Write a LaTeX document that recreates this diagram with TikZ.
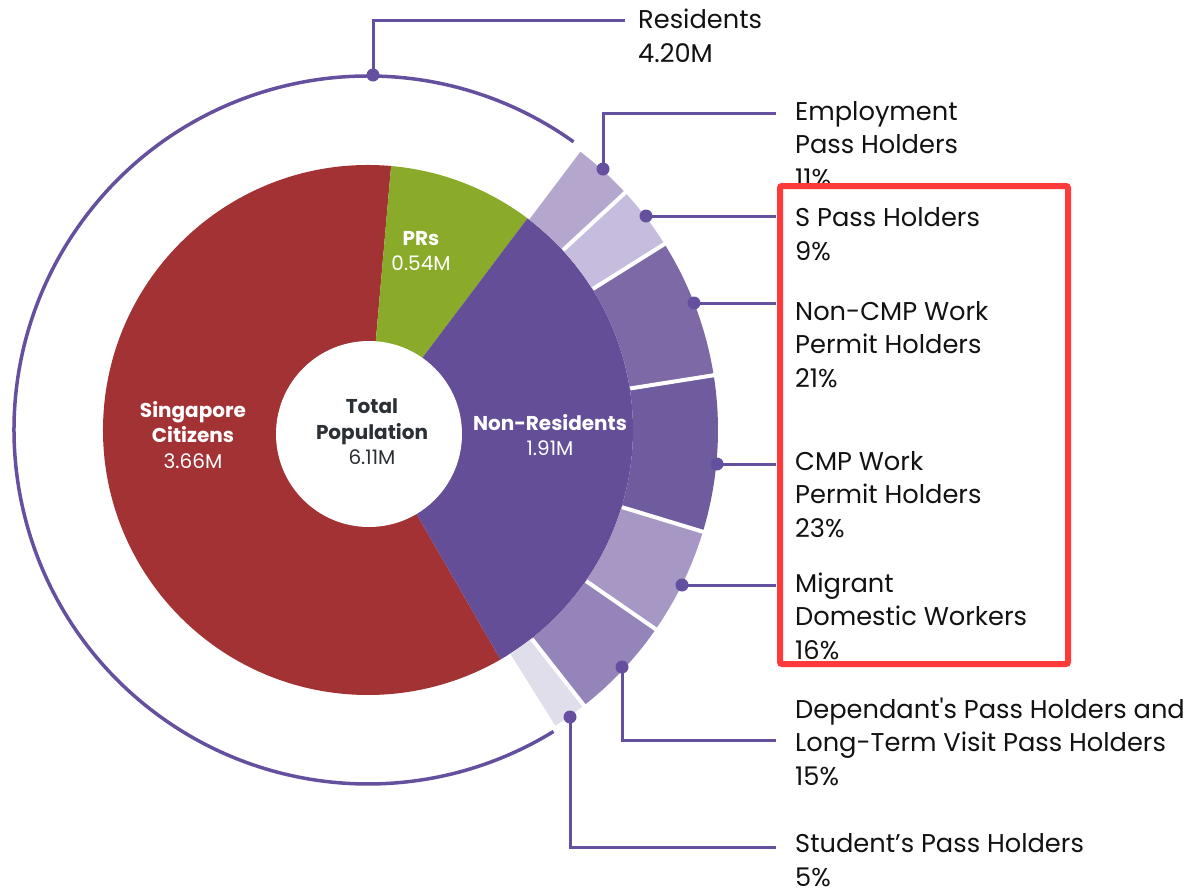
\documentclass[tikz,border=0pt]{standalone}
\usepackage{fontspec}
\setmainfont{Poppins}
\definecolor{citRed}{HTML}{A23233}
\definecolor{prGreen}{HTML}{8AAA29}
\definecolor{nrPurple}{HTML}{634E97}
\definecolor{empC}{HTML}{B4A6CD}
\definecolor{sC}{HTML}{C6BCDD}
\definecolor{ncmpC}{HTML}{7D69A5}
\definecolor{cmpC}{HTML}{6F5C9F}
\definecolor{mdwC}{HTML}{A697C5}
\definecolor{dpC}{HTML}{9584BA}
\definecolor{stuC}{HTML}{E0DEEB}
\definecolor{lineC}{HTML}{6550A0}
\definecolor{boxRed}{HTML}{FF3A3A}
\definecolor{labelC}{HTML}{121212}
\definecolor{totalC}{HTML}{2B3036}
\newcommand\ringseg[3]{\fill[#1] (#2:265) arc[start angle=#2,end angle=#3,radius=265] -- (#3:350) arc[start angle=#3,end angle=#2,radius=350] -- cycle;}
\newcommand\ringsep[1]{\draw[sepline] (#1:265.5) -- (#1:352);}
\newcommand\straightapos{{\addfontfeature{Ligatures=TeXOff}'}}
\begin{document}
\begin{tikzpicture}[x=1pt,y=1pt,
  lbl/.style={anchor=base west, align=left, font=\fontsize{25.7}{33.5}\selectfont, text=labelC, inner sep=0pt},
  pielbl/.style={align=center, font=\fontsize{20}{25.5}\selectfont, inner sep=0pt},
  lead/.style={draw=lineC, line width=3pt},
  dotmark/.style={circle, fill=lineC, inner sep=0pt, minimum size=13pt},
  sepline/.style={draw=white, line width=4pt}]
\useasboundingbox (0,0) rectangle (1187,-894);
\begin{scope}[shift={(368,-430)}]
  \fill[citRed] (0,0) -- (85:265) arc[start angle=85,end angle=300,radius=265] -- cycle;
  \fill[prGreen] (0,0) -- (53:265) arc[start angle=53,end angle=85,radius=265] -- cycle;
  \fill[nrPurple] (0,0) -- (-60:265) arc[start angle=-60,end angle=53,radius=265] -- cycle;
  \ringseg{empC}{42.7}{53}
  \ringseg{sC}{32.1}{42.7}
  \ringseg{ncmpC}{9}{32.1}
  \ringseg{cmpC}{-16.9}{9}
  \ringseg{mdwC}{-34.7}{-16.9}
  \ringseg{dpC}{-51.9}{-34.7}
  \ringseg{stuC}{-58}{-51.9}
  \ringsep{53}\ringsep{42.7}\ringsep{32.1}\ringsep{9}\ringsep{-16.9}\ringsep{-34.7}\ringsep{-51.9}\ringsep{-58}
  \draw[lineC, line width=3.5pt] (54.5:354) arc[start angle=54.5,end angle=301.6,radius=354];
  \fill[white] (1,-4) circle (93);
\end{scope}
% pie labels
\node[pielbl, text=white] (cit) at (193,-435) {\bfseries Singapore\\\bfseries Citizens\\3.66M};
\node[pielbl, text=white] (pr) at (421,-251) {\bfseries PRs\\0.54M};
\node[pielbl, text=totalC] (tot) at (372,-432) {\bfseries Total\\\bfseries Population\\6.11M};
\node[pielbl, text=white] (nr) at (550,-435) {\bfseries Non-Residents\\1.91M};
% leader ends
\coordinate (eRes) at (625,-20);
\coordinate (eEmp) at (776,-113);
\coordinate (eS) at (776,-216);
\coordinate (eNcmp) at (776,-303);
\coordinate (eCmp) at (776,-464);
\coordinate (eMdw) at (776,-585);
\coordinate (eDp) at (776,-740);
\coordinate (eStu) at (776,-847);
% dot positions
\coordinate (pRes) at (373,-75);
\coordinate (pEmp) at (603,-169);
\coordinate (pS) at (646,-216);
\coordinate (pNcmp) at (694,-303);
\coordinate (pCmp) at (717,-464);
\coordinate (pMdw) at (682,-585);
\coordinate (pDp) at (622,-667);
\coordinate (pStu) at (570,-717);
\draw[lead] (pRes) |- (eRes);
\draw[lead] (pEmp) |- (eEmp);
\draw[lead] (pS) -- (eS);
\draw[lead] (pNcmp) -- (eNcmp);
\draw[lead] (pCmp) -- (eCmp);
\draw[lead] (pMdw) -- (eMdw);
\draw[lead] (pDp) |- (eDp);
\draw[lead] (pStu) |- (eStu);
% dots
\node[dotmark] (dRes) at (pRes) {};
\node[dotmark] (dEmp) at (pEmp) {};
\node[dotmark] (dS) at (pS) {};
\node[dotmark] (dNcmp) at (pNcmp) {};
\node[dotmark] (dCmp) at (pCmp) {};
\node[dotmark] (dMdw) at (pMdw) {};
\node[dotmark] (dDp) at (pDp) {};
\node[dotmark] (dStu) at (pStu) {};
% labels (anchored at the baseline of the last line)
\node[lbl] (lRes) at (638,-62) {Residents\\4.20M};
\node[lbl] (lEmp) at (795,-187) {Employment\\Pass Holders\\11\%};
\node[lbl] (lS) at (795,-260) {S Pass Holders\\9\%};
\node[lbl] (lNcmp) at (795,-387) {Non-CMP Work\\Permit Holders\\21\%};
\node[lbl] (lCmp) at (795,-537) {CMP Work\\Permit Holders\\23\%};
\node[lbl] (lMdw) at (795,-659) {Migrant\\Domestic Workers\\16\%};
\node[lbl] (lDp) at (795,-785) {Dependant\straightapos s Pass Holders and\\Long-Term Visit Pass Holders\\15\%};
\node[lbl] (lStu) at (795,-886) {Student’s Pass Holders\\5\%};
% highlight box
\draw[boxRed, line width=6pt, rounded corners=2pt] (780,-186) rectangle (1068,-664);
\end{tikzpicture}
\end{document}
